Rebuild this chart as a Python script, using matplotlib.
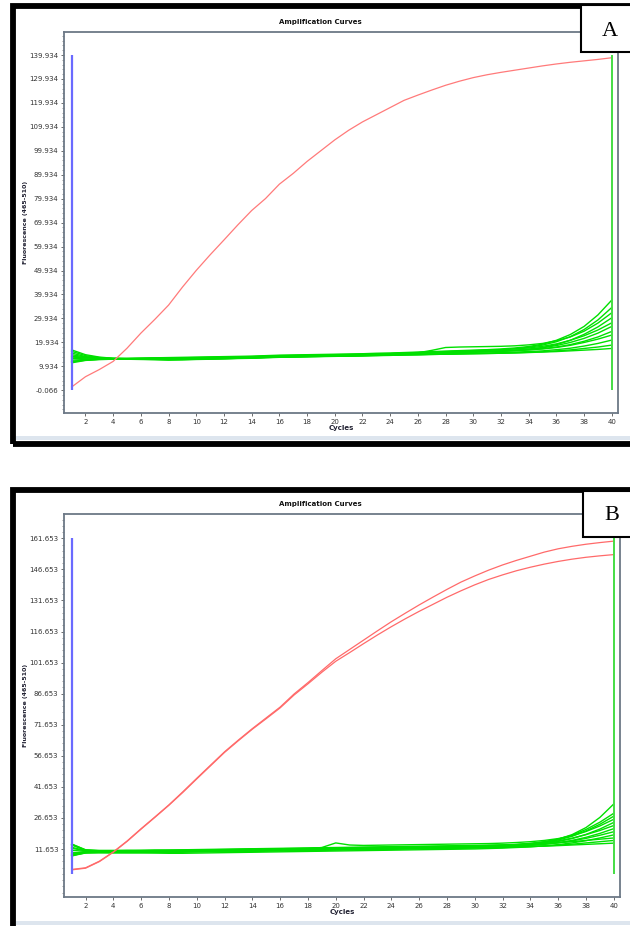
import numpy as np
import matplotlib
matplotlib.use("Agg")
import matplotlib.pyplot as plt
from matplotlib.patches import Rectangle
from matplotlib.ticker import FixedLocator, FuncFormatter

W, H = 630, 926

cycles = np.arange(1, 41)
x_ticks = np.arange(2, 41, 2)

# panel A
a_red = [1.3, 5.6, 8.6, 12.0, 17.5, 23.8, 29.5, 35.5, 43.0, 50.0,
         56.5, 62.7, 69.0, 75.0, 80.0, 86.0, 90.5, 95.5, 100.0, 104.5,
         108.5, 112.0, 115.0, 118.0, 121.0, 123.2, 125.3, 127.3, 129.0, 130.5,
         131.7, 132.7, 133.6, 134.5, 135.4, 136.2, 136.9, 137.5, 138.1, 138.8]
a_green = [
    [14.8, 13.8, 13.4, 13.3, 13.3, 13.4, 13.5, 13.6, 13.7, 13.8, 13.9, 14.0, 14.1, 14.2, 14.4, 14.6, 14.7, 14.8, 14.9, 15.0,
     15.1, 15.2, 15.4, 15.5, 15.7, 15.9, 16.1, 16.3, 16.5, 16.7, 16.9, 17.2, 17.6, 18.2, 19.2, 20.8, 23.2, 26.6, 31.4, 37.6],
    [12.0, 12.6, 12.9, 13.0, 13.1, 13.2, 13.3, 13.3, 13.4, 13.5, 13.6, 13.7, 13.8, 13.9, 14.1, 14.3, 14.4, 14.5, 14.6, 14.7,
     14.8, 14.9, 15.0, 15.2, 15.4, 15.6, 15.8, 16.0, 16.2, 16.4, 16.6, 16.9, 17.3, 17.9, 18.8, 20.2, 22.3, 25.3, 29.3, 34.5],
    [16.2, 14.4, 13.6, 13.2, 13.0, 13.0, 13.1, 13.1, 13.2, 13.3, 13.4, 13.5, 13.6, 13.8, 14.0, 14.2, 14.3, 14.4, 14.5, 14.6,
     14.7, 14.9, 15.1, 15.2, 15.4, 15.6, 16.6, 17.8, 18.0, 18.1, 18.2, 18.3, 18.5, 18.9, 19.5, 20.6, 22.2, 24.6, 28.0, 32.3],
    [11.4, 12.4, 12.8, 12.9, 12.9, 12.9, 12.8, 12.7, 12.8, 12.9, 13.0, 13.1, 13.3, 13.4, 13.6, 13.8, 13.9, 14.0, 14.1, 14.2,
     14.3, 14.4, 14.6, 14.7, 14.9, 15.1, 15.3, 15.5, 15.7, 15.9, 16.1, 16.3, 16.6, 17.1, 17.8, 19.0, 20.8, 23.3, 26.4, 30.2],
    [13.8, 13.5, 13.3, 13.2, 13.2, 13.3, 13.4, 13.4, 13.5, 13.6, 13.7, 13.8, 13.9, 14.0, 14.2, 14.4, 14.5, 14.6, 14.7, 14.8,
     14.9, 15.0, 15.2, 15.3, 15.5, 15.7, 15.9, 16.1, 16.3, 16.5, 16.7, 16.9, 17.2, 17.6, 18.3, 19.3, 20.8, 22.7, 25.1, 28.1],
    [15.5, 14.0, 13.4, 13.1, 13.0, 13.0, 13.0, 12.9, 13.0, 13.1, 13.2, 13.3, 13.4, 13.5, 13.7, 13.9, 14.0, 14.1, 14.2, 14.3,
     14.4, 14.5, 14.7, 14.8, 15.0, 15.2, 15.4, 15.6, 15.8, 16.0, 16.2, 16.4, 16.7, 17.1, 17.7, 18.6, 19.9, 21.6, 23.8, 26.6],
    [12.5, 12.8, 12.9, 13.0, 13.0, 13.1, 13.1, 13.0, 13.1, 13.2, 13.3, 13.4, 13.5, 13.6, 13.8, 14.0, 14.1, 14.2, 14.3, 14.4,
     14.5, 14.6, 14.7, 14.9, 15.0, 15.2, 15.4, 15.5, 15.7, 15.9, 16.0, 16.2, 16.5, 16.8, 17.3, 18.0, 19.0, 20.4, 22.2, 24.5],
    [14.2, 13.6, 13.3, 13.1, 13.1, 13.1, 13.2, 13.2, 13.3, 13.4, 13.5, 13.6, 13.7, 13.8, 14.0, 14.2, 14.3, 14.4, 14.5, 14.6,
     14.7, 14.8, 14.9, 15.1, 15.2, 15.4, 15.5, 15.7, 15.8, 16.0, 16.1, 16.3, 16.5, 16.8, 17.2, 17.8, 18.7, 19.9, 21.3, 23.0],
    [11.8, 12.5, 12.8, 12.9, 12.9, 12.8, 12.7, 12.5, 12.6, 12.8, 12.9, 13.0, 13.2, 13.3, 13.5, 13.7, 13.8, 13.9, 14.0, 14.1,
     14.2, 14.3, 14.4, 14.5, 14.7, 14.8, 15.0, 15.1, 15.3, 15.4, 15.5, 15.7, 15.9, 16.1, 16.4, 16.9, 17.5, 18.4, 19.5, 20.9],
    [13.2, 13.1, 13.0, 13.0, 13.0, 13.0, 13.0, 13.0, 13.1, 13.2, 13.3, 13.4, 13.5, 13.6, 13.8, 14.0, 14.0, 14.1, 14.2, 14.3,
     14.3, 14.4, 14.5, 14.6, 14.7, 14.8, 14.9, 15.0, 15.1, 15.2, 15.3, 15.4, 15.6, 15.8, 16.0, 16.4, 16.8, 17.4, 18.0, 18.8],
    [16.8, 14.8, 13.8, 13.3, 13.1, 13.0, 13.0, 13.0, 13.0, 13.1, 13.2, 13.3, 13.4, 13.5, 13.7, 13.8, 13.9, 14.0, 14.1, 14.2,
     14.3, 14.4, 14.5, 14.6, 14.7, 14.8, 14.9, 15.0, 15.1, 15.2, 15.3, 15.4, 15.5, 15.7, 15.9, 16.1, 16.4, 16.7, 17.0, 17.4],
]
a_ymin, a_ymax = -0.066, 139.934
a_major = [-0.066, 9.934, 19.934, 29.934, 39.934, 49.934, 59.934, 69.934,
           79.934, 89.934, 99.934, 109.934, 119.934, 129.934, 139.934]

# panel B
b_red = [
    [1.8, 2.6, 5.8, 10.3, 15.6, 21.5, 27.2, 33.0, 39.3, 45.8,
     52.2, 58.6, 64.3, 69.8, 75.0, 80.2, 86.5, 92.0, 97.8, 103.5,
     108.0, 112.5, 117.0, 121.4, 125.5, 129.5, 133.3, 137.0, 140.5, 143.5,
     146.3, 148.8, 151.0, 153.0, 155.0, 156.6, 157.8, 158.8, 159.6, 160.3],
    [1.6, 2.4, 5.6, 10.1, 15.4, 21.3, 27.0, 32.8, 39.0, 45.5,
     51.9, 58.3, 64.0, 69.5, 74.6, 79.8, 86.0, 91.4, 97.0, 102.3,
     106.5, 110.8, 115.0, 119.0, 122.8, 126.4, 129.8, 133.2, 136.3, 139.2,
     141.8, 144.0, 146.0, 147.7, 149.2, 150.5, 151.6, 152.5, 153.2, 153.8],
]
b_green = [
    [9.5, 10.4, 10.6, 10.7, 10.8, 10.8, 10.9, 11.0, 11.0, 11.1, 11.2, 11.3, 11.4, 11.5, 11.6, 11.7, 11.8, 11.9, 12.0, 12.1,
     12.2, 12.3, 12.4, 12.5, 12.6, 12.7, 12.8, 12.9, 13.0, 13.1, 13.3, 13.5, 13.8, 14.3, 15.1, 16.4, 18.6, 22.0, 26.9, 33.4],
    [14.1, 11.2, 10.8, 10.8, 10.8, 10.9, 11.0, 11.0, 11.1, 11.2, 11.3, 11.4, 11.5, 11.6, 11.7, 11.8, 11.9, 12.0, 12.1, 12.2,
     12.3, 12.4, 12.5, 12.6, 12.7, 12.8, 12.9, 13.0, 13.1, 13.2, 13.4, 13.6, 13.9, 14.4, 15.2, 16.4, 18.3, 21.1, 24.6, 28.9],
    [8.4, 10.0, 10.4, 10.5, 10.6, 10.6, 10.7, 10.7, 10.8, 10.9, 11.0, 11.1, 11.2, 11.3, 11.4, 11.5, 11.6, 11.7, 11.8, 11.9,
     12.0, 12.1, 12.2, 12.3, 12.4, 12.5, 12.6, 12.7, 12.8, 12.9, 13.1, 13.3, 13.6, 14.1, 14.9, 16.0, 17.8, 20.4, 23.6, 27.5],
    [12.5, 10.9, 10.6, 10.6, 10.7, 10.7, 10.8, 10.8, 10.9, 11.0, 11.1, 11.2, 11.3, 11.4, 11.5, 11.6, 11.7, 11.8, 12.4, 14.6,
     13.6, 13.4, 13.5, 13.6, 13.7, 13.8, 13.9, 14.0, 14.1, 14.2, 14.3, 14.5, 14.8, 15.2, 15.8, 16.7, 18.1, 20.1, 22.8, 26.0],
    [9.0, 10.2, 10.3, 10.3, 10.3, 10.4, 10.4, 10.4, 10.5, 10.6, 10.7, 10.8, 10.9, 11.0, 11.1, 11.2, 11.3, 11.4, 11.5, 11.6,
     11.7, 11.8, 11.9, 12.0, 12.1, 12.2, 12.3, 12.4, 12.5, 12.6, 12.8, 13.0, 13.3, 13.7, 14.3, 15.3, 16.7, 18.7, 21.3, 24.5],
    [13.6, 11.0, 10.7, 10.7, 10.7, 10.8, 10.8, 10.9, 10.9, 11.0, 11.1, 11.2, 11.3, 11.4, 11.5, 11.6, 11.7, 11.8, 11.9, 12.0,
     12.1, 12.2, 12.3, 12.4, 12.5, 12.6, 12.7, 12.8, 12.9, 13.0, 13.2, 13.4, 13.7, 14.1, 14.7, 15.6, 16.9, 18.6, 20.6, 23.0],
    [8.3, 9.8, 10.1, 10.2, 10.2, 10.2, 10.3, 10.3, 10.4, 10.5, 10.6, 10.7, 10.8, 10.9, 11.0, 11.1, 11.2, 11.3, 11.4, 11.5,
     11.6, 11.7, 11.8, 11.9, 12.0, 12.1, 12.2, 12.3, 12.4, 12.5, 12.6, 12.8, 13.1, 13.4, 13.9, 14.7, 15.8, 17.3, 19.2, 21.5],
    [11.0, 10.6, 10.5, 10.5, 10.6, 10.6, 10.7, 10.7, 10.8, 10.9, 11.0, 11.0, 11.1, 11.2, 11.3, 11.4, 11.5, 11.6, 11.7, 11.8,
     11.9, 12.0, 12.1, 12.2, 12.3, 12.4, 12.5, 12.6, 12.7, 12.8, 12.9, 13.1, 13.3, 13.6, 14.0, 14.7, 15.6, 16.8, 18.3, 20.0],
    [9.8, 10.1, 10.0, 9.9, 9.8, 9.8, 9.7, 9.6, 9.6, 9.7, 9.8, 9.9, 10.0, 10.1, 10.2, 10.3, 10.4, 10.5, 10.6, 10.7,
     10.8, 10.9, 11.0, 11.1, 11.2, 11.3, 11.4, 11.5, 11.6, 11.7, 11.9, 12.1, 12.4, 12.7, 13.2, 13.8, 14.6, 15.7, 17.0, 18.5],
    [14.0, 11.3, 11.0, 11.0, 11.1, 11.1, 11.2, 11.2, 11.3, 11.4, 11.5, 11.6, 11.7, 11.8, 11.9, 12.0, 12.1, 12.2, 12.3, 12.4,
     12.5, 12.6, 12.7, 12.8, 12.9, 13.0, 13.1, 13.2, 13.3, 13.4, 13.5, 13.6, 13.8, 14.0, 14.3, 14.7, 15.2, 15.8, 16.4, 17.0],
    [8.8, 9.7, 9.8, 9.8, 9.9, 9.9, 10.0, 10.0, 10.1, 10.2, 10.3, 10.3, 10.4, 10.5, 10.6, 10.7, 10.8, 10.9, 11.0, 11.1,
     11.2, 11.3, 11.4, 11.5, 11.6, 11.7, 11.8, 11.9, 12.0, 12.1, 12.2, 12.4, 12.6, 12.8, 13.1, 13.5, 14.0, 14.6, 15.2, 15.8],
    [12.0, 10.8, 10.7, 10.7, 10.7, 10.7, 10.8, 10.8, 10.8, 10.9, 11.0, 11.0, 11.1, 11.2, 11.3, 11.4, 11.4, 11.5, 11.6, 11.7,
     11.7, 11.8, 11.9, 12.0, 12.1, 12.1, 12.2, 12.3, 12.4, 12.5, 12.6, 12.7, 12.8, 13.0, 13.1, 13.3, 13.6, 13.9, 14.2, 14.5],
]
b_ymin, b_ymax = -0.35, 161.653
b_major = [11.653, 26.653, 41.653, 56.653, 71.653, 86.653,
           101.653, 116.653, 131.653, 146.653, 161.653]


def px_rect(fig, x0, y0, x1, y1, **kw):
    r = Rectangle((x0 / W, 1 - y1 / H), (x1 - x0) / W, (y1 - y0) / H,
                  transform=fig.transFigure, **kw)
    fig.patches.append(r)


def px_axes(fig, x0, y0, x1, y1):
    return fig.add_axes([x0 / W, 1 - y1 / H, (x1 - x0) / W, (y1 - y0) / H])


def draw_panel(fig, box, reds, greens, ymin, ymax, ylim, major, minor_step,
               red_color):
    ax = px_axes(fig, *box)
    ax.set_xlim(0.45, 40.45)
    ax.set_ylim(*ylim)
    for g in greens:
        ax.plot(cycles, g, color="#00e000", lw=1.0)
    for r in reds:
        ax.plot(cycles, r, color=red_color, lw=0.9)
    ax.vlines(1, ymin, ymax, color="#6a6aff", lw=1.6)
    ax.vlines(40, ymin, ymax, color="#44dd44", lw=1.4)

    ax.yaxis.set_major_locator(FixedLocator(major))
    minors = np.concatenate([np.arange(major[0], ylim[0], -minor_step),
                             np.arange(major[0], ylim[1], minor_step)])
    ax.yaxis.set_minor_locator(FixedLocator(minors))
    ax.yaxis.set_major_formatter(FuncFormatter(lambda v, p: "%.3f" % v))
    ax.set_xticks(x_ticks)
    ax.tick_params(axis="both", which="major", labelsize=5, length=2.5,
                   width=0.6, pad=1.5, colors="#555555", labelcolor="#333333")
    ax.tick_params(axis="y", which="minor", length=1.3, width=0.5,
                   colors="#777777")
    for s in ax.spines.values():
        s.set_color("#6c7886")
        s.set_linewidth(1.3)
    ax.set_xlabel("Cycles", fontsize=5, fontweight="bold", labelpad=0,
                  color="#222233")
    ax.set_ylabel("Fluorescence (465-510)", fontsize=4.5, fontweight="bold",
                  labelpad=1, color="#222233")
    # window title sits centred on the whole window, not the plot box
    fig.text(320 / W, 1 - (box[1] - 10) / H, "Amplification Curves",
             fontsize=5, fontweight="bold", color="#111111",
             ha="center", va="center")
    return ax


fig = plt.figure(figsize=(W / 100, H / 100), dpi=100)
fig.patch.set_facecolor("white")

# panel A frame
px_rect(fig, 16, 436, 630, 440, facecolor="#dde5ee", edgecolor="none")
px_rect(fig, 13, 6.5, 645, 444, fill=False, edgecolor="black", lw=4.2)
draw_panel(fig, (64, 32, 618, 413), [a_red], a_green, a_ymin, a_ymax,
           (-9.55, 149.55), a_major, 2.0, "#ff7a7a")
px_rect(fig, 581, 5, 640, 52, facecolor="white", edgecolor="black", lw=1.5)
fig.text(610 / W, 1 - 31 / H, "A", family="Liberation Serif", fontsize=16,
         ha="center", va="center")

# panel B frame
px_rect(fig, 16, 921, 630, 925, facecolor="#dde5ee", edgecolor="none")
px_rect(fig, 13, 489.5, 645, 960, fill=False, edgecolor="black", lw=4.2)
draw_panel(fig, (64, 514, 620, 897), b_red, b_green, b_ymin, b_ymax,
           (-11.5, 173.4), b_major, 3.0, "#ff6a6a")
px_rect(fig, 583, 491, 640, 537, facecolor="white", edgecolor="black", lw=1.5)
fig.text(612 / W, 1 - 515 / H, "B", family="Liberation Serif", fontsize=16,
         ha="center", va="center")

fig.savefig("out.png", dpi=100)
